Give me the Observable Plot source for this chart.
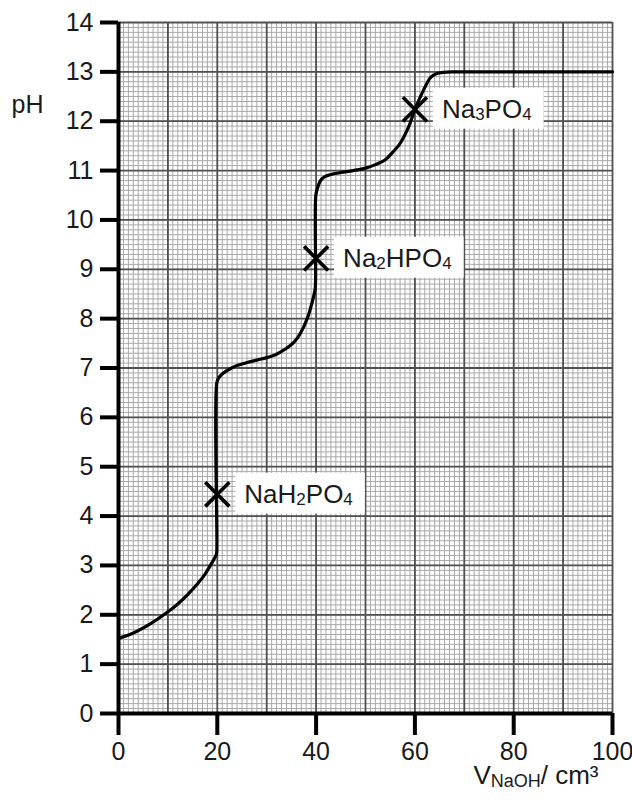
<!DOCTYPE html>
<html>
<head>
<meta charset="utf-8">
<script src="https://cdn.jsdelivr.net/npm/d3@7"></script>
<script src="https://cdn.jsdelivr.net/npm/@observablehq/plot@0.6"></script>
<style>
  html, body { margin: 0; padding: 0; background: #fff; }
  #chart svg { display: block; }
</style>
</head>
<body>
<div id="chart"></div>
<script>
// ---- data ----
const titrationVolume = [0, 3, 6.5, 10, 12, 14, 16, 17.5, 18.6, 19.3, 19.8, 19.9, 19.9, 20.3, 21, 22.7, 24, 26, 28, 30, 32, 34, 35.5, 36.8, 38.2, 39.3, 39.8, 39.9, 39.95, 40.3, 40.8, 41.5, 43, 45, 47.5, 50, 52, 54, 55.5, 56.8, 57.7, 58.8, 59.7, 60.6, 61.5, 62.4, 63.2, 64.3, 65.8, 67.5, 70, 80, 90, 100];
const titrationPH     = [1.52, 1.63, 1.82, 2.06, 2.22, 2.41, 2.63, 2.82, 3.0, 3.12, 3.22, 3.3, 6.7, 6.8, 6.88, 6.99, 7.05, 7.11, 7.16, 7.21, 7.28, 7.4, 7.52, 7.7, 8.0, 8.37, 8.6, 8.8, 10.5, 10.65, 10.78, 10.86, 10.92, 10.96, 11.0, 11.05, 11.12, 11.22, 11.37, 11.52, 11.67, 11.9, 12.15, 12.38, 12.58, 12.76, 12.89, 12.96, 12.99, 13.0, 13.0, 13.0, 13.0, 13.0];

const saltNames   = ["NaH₂PO₄", "Na₂HPO₄", "Na₃PO₄"];
const saltVolume  = [20, 40, 60];
const saltPH      = [4.44, 9.22, 12.24];

const xTicks = [0, 20, 40, 60, 80, 100];
const yTicks = [0, 1, 2, 3, 4, 5, 6, 7, 8, 9, 10, 11, 12, 13, 14];
const xLabel = "V_{NaOH}/ cm³";
const yLabel = "pH";

// ---- derived tables ----
const curveData = titrationVolume.map((v, i) => ({v, pH: titrationPH[i]}));
const saltData = saltNames.map((name, i) => ({name, v: saltVolume[i], pH: saltPH[i]}));
const gridMinorX = d3.range(0, 100.5, 1);
const gridMinorY = d3.range(0, 140.5, 1).map(d => d / 10);
const gridMajorX = d3.range(0, 100.5, 10);
const gridMajorY = yTicks;

const ink = "#1a1a1a";

const chart = Plot.plot({
  width: 632,
  height: 800,
  marginLeft: 118,
  marginRight: 20,
  marginTop: 22,
  marginBottom: 87,
  style: {fontFamily: "'Liberation Sans', Arial, sans-serif", fontSize: "25px", color: ink, background: "#fff"},
  x: {domain: [0, 100]},
  y: {domain: [0, 14]},
  marks: [
    Plot.ruleX(gridMinorX, {stroke: "#a8a8a8", strokeWidth: 1}),
    Plot.ruleY(gridMinorY, {stroke: "#a8a8a8", strokeWidth: 1}),
    Plot.ruleX(gridMajorX, {stroke: "#505050", strokeWidth: 1.8}),
    Plot.ruleY(gridMajorY, {stroke: "#505050", strokeWidth: 1.8}),
    Plot.ruleX([0], {stroke: "#000", strokeWidth: 4}),
    Plot.ruleY([0], {stroke: "#000", strokeWidth: 4}),
    Plot.axisX({ticks: xTicks, tickSize: 22, tickPadding: 7, strokeWidth: 4, stroke: "#000", fill: ink, fontSize: 25, label: null}),
    Plot.axisY({ticks: yTicks, tickSize: 18, tickPadding: 7, strokeWidth: 4, stroke: "#000", fill: ink, fontSize: 25, label: null}),
    Plot.line(curveData, {x: "v", y: "pH", stroke: "#000", strokeWidth: 3.2, curve: "catmull-rom"}),
    Plot.dot(saltData, {x: "v", y: "pH", symbol: "times", r: 11, stroke: "#000", strokeWidth: 3.6}),
    Plot.text(saltData, {x: "v", y: "pH", text: "name", dx: 27, textAnchor: "start", fontSize: 26, fill: ink, ariaDescription: "salt labels"}),
    Plot.text([xLabel], {frameAnchor: "bottom-right", dx: -14, dy: 70, textAnchor: "end", fontSize: 26, fill: ink, ariaDescription: "x label"}),
    Plot.text([yLabel], {frameAnchor: "top-left", dx: -91, dy: 73, textAnchor: "middle", fontSize: 25, fill: ink, ariaDescription: "y label"})
  ]
});

document.getElementById("chart").appendChild(chart);

// ---- rich text: subscripts ----
const svgns = "http://www.w3.org/2000/svg";
function enrich(textEl, subSize, shift) {
  const s = textEl.textContent;
  const re = /_\{([^}]*)\}|([\u2080-\u2089]+)/g;
  const parts = [];
  let last = 0, m;
  while ((m = re.exec(s))) {
    if (m.index > last) parts.push({t: s.slice(last, m.index), sub: false});
    if (m[1] != null) parts.push({t: m[1], sub: true});
    else parts.push({t: Array.from(m[2]).map(c => String.fromCharCode(c.charCodeAt(0) - 0x2080 + 48)).join(""), sub: true});
    last = re.lastIndex;
  }
  if (!parts.some(p => p.sub)) return;
  if (last < s.length) parts.push({t: s.slice(last), sub: false});
  textEl.textContent = "";
  let shifted = false;
  for (const p of parts) {
    const ts = document.createElementNS(svgns, "tspan");
    ts.textContent = p.t;
    if (p.sub) {
      ts.setAttribute("font-size", subSize);
      if (!shifted) { ts.setAttribute("dy", shift); shifted = true; }
    } else if (shifted) {
      ts.setAttribute("dy", -shift); shifted = false;
    }
    textEl.appendChild(ts);
  }
}

function findTexts(desc) {
  const g = chart.querySelector(`g[aria-description="${desc}"]`);
  return g ? Array.from(g.querySelectorAll("text")) : [];
}

findTexts("salt labels").forEach(t => {
  enrich(t, 17, 2);
  const b = t.getBBox();
  const r = document.createElementNS(svgns, "rect");
  r.setAttribute("x", b.x - 9);
  r.setAttribute("y", b.y - 6);
  r.setAttribute("width", b.width + 21);
  r.setAttribute("height", b.height + 11);
  r.setAttribute("fill", "#fff");
  r.setAttribute("stroke", "none");
  const tf = t.getAttribute("transform");
  if (tf) r.setAttribute("transform", tf);
  t.parentNode.insertBefore(r, t);
});
findTexts("x label").forEach(t => enrich(t, 18, 3));
</script>
</body>
</html>
